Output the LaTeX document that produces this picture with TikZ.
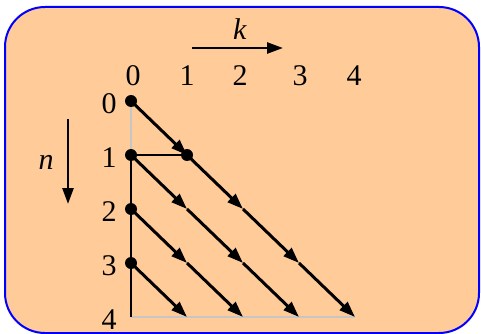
\documentclass[tikz,border=0pt]{standalone}
\usepackage{fontspec}
\setmainfont{Liberation Serif}
\usetikzlibrary{arrows.meta, positioning}

\begin{document}
\begin{tikzpicture}[x=1pt, y=-1pt, >={Triangle[length=16pt, width=11pt]},
		seta/.style={line width=3pt},
		eixo/.style={line width=2.2pt},
		fraca/.style={line width=1.8pt, gray!45},
		ponto/.style={circle, fill=black, inner sep=0pt, minimum size=12pt},
		rotulo/.style={font=\fontsize{30}{31}\selectfont, inner sep=0pt}]
		
		% Fundo
		\useasboundingbox (0,0) rectangle (481,334);
		\draw[blue, line width=2pt, fill={rgb,255:red,255;green,204;blue,153}, rounded corners=40pt] (5,7) rectangle (479,333);
		
		% Pontos da grade
		\foreach \k in {0,...,4}
			\foreach \n in {0,...,4}
				\coordinate (p\k\n) at ({131+56*\k},{101+54*\n});
		
		% Rotulos k
		\foreach \k/\x in {0/133,1/187,2/240,3/300,4/354}
			\node[rotulo] (col\k) at (\x,76) {\k};
		\coordinate (ka) at (192,48);
		\coordinate (kb) at (283,48);
		\node[rotulo] (kl) at (240,29) {\textit{k}};
		\draw[->, line width=2.6pt] (ka) -- (kb);
		
		% Rotulos n
		\foreach \n in {0,...,4}
			\node[rotulo] (row\n) at (109,{104+54*\n}) {\n};
		\coordinate (na) at (68,119);
		\coordinate (nb) at (68,204);
		\node[rotulo] (nl) at (46,162) {\textit{n}};
		\draw[->, line width=2.6pt] (na) -- (nb);
		
		% Eixos
		\draw[fraca] (p00) -- (p01);
		\draw[fraca] (p04) -- (p44);
		\draw[eixo] (p01) -- (p04);
		\draw[eixo] (p01) -- (p11);
		
		% Diagonais
		\foreach \n in {0,...,3}
			\foreach \k in {0,...,3}{
				\pgfmathtruncatemacro{\m}{\n+\k}
				\pgfmathtruncatemacro{\kk}{\k+1}
				\pgfmathtruncatemacro{\mm}{\n+\k+1}
				\ifnum\mm<5
					\draw[seta, ->] (p\k\m) -- (p\kk\mm);
				\fi
			}
		
		% Pontos
		\foreach \n in {0,...,3}
			\node[ponto] (d\n) at (p0\n) {};
		\node[ponto] (d11) at (p11) {};
		
	\end{tikzpicture}
\end{document}
